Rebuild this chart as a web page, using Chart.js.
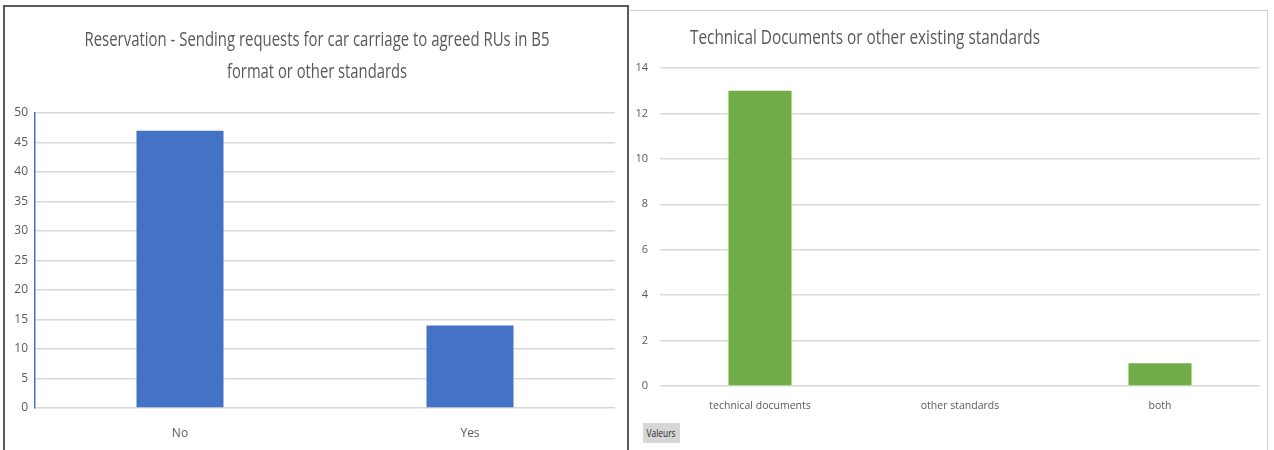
<!DOCTYPE html>
<html>
<head>
<meta charset="utf-8">
<script src="https://cdn.jsdelivr.net/npm/chart.js@4.4.1/dist/chart.umd.min.js"></script>
<style>
  html, body { margin:0; padding:0; background:#fff; width:1274px; height:450px; overflow:hidden; }
  #leftBox { position:absolute; left:3px; top:5px; width:626px; height:460px; border:2px solid #5a5a5a; box-sizing:border-box; }
  #rightBox { position:absolute; left:630px; top:10px; width:638px; height:460px; border:1px solid #cfcfcf; border-left:none; box-sizing:border-box; }
  #leftWrap { position:absolute; left:5px; top:7px; width:622px; height:443px; }
  #rightWrap { position:absolute; left:631px; top:11px; width:636px; height:439px; }
  #valeurs { position:absolute; left:643px; top:423px; width:37px; height:20px; background:#d6d6d6; color:#262626; font:11px 'Open Sans',sans-serif; line-height:20px; text-align:center; overflow:hidden; white-space:nowrap; }
  #valeurs span { display:inline-block; transform:scaleX(0.76); transform-origin:center; margin-left:-8px; margin-right:-8px; }
</style>
</head>
<body>
<div id="leftBox"></div>
<div id="rightBox"></div>
<div id="leftWrap"><canvas id="c1"></canvas></div>
<div id="rightWrap"><canvas id="c2"></canvas></div>
<div id="valeurs"><span>Valeurs</span></div>
<script>
// ---- data ----
const leftTitle = ['Reservation - Sending requests for car carriage to agreed RUs in B5', 'format or other standards'];
const leftCategories = ['No', 'Yes'];
const leftValues = [47, 14];
const leftMax = 50;
const leftStep = 5;

const rightTitle = 'Technical Documents or other existing standards';
const rightCategories = ['technical documents', 'other standards', 'both'];
const rightValues = [13, 0, 1];
const rightMax = 14;
const rightStep = 2;

const FONT = "'Open Sans','Liberation Sans',sans-serif";
const GREY = '#595959';
const GRID = '#d9d9d9';

// draws a title with narrow (horizontally compressed) text like the original
function titlePlugin(id, lines, x, y, lineGap, maxWidths, align) {
  return {
    id,
    afterDraw(chart) {
      const ctx = chart.ctx;
      ctx.save();
      ctx.font = "20px " + FONT;
      ctx.fillStyle = GREY;
      ctx.textBaseline = 'middle';
      ctx.textAlign = align;
      lines.forEach((t, i) => {
        const w = ctx.measureText(t).width;
        const mw = Math.min(w, maxWidths[i]);
        ctx.fillText(t, x, y + i * lineGap, mw);
      });
      ctx.restore();
    }
  };
}

new Chart(document.getElementById('c1'), {
  type: 'bar',
  data: { labels: leftCategories, datasets: [{ data: leftValues, backgroundColor: '#4472C4', barPercentage: 0.3, categoryPercentage: 1 }] },
  options: {
    responsive: true, maintainAspectRatio: false, animation: false,
    layout: { padding: { left: 0, right: 12, top: 106, bottom: 0 } },
    plugins: { legend: { display: false }, tooltip: { enabled: false }, title: { display: false } },
    scales: {
      x: {
        grid: { display: false }, border: { display: false },
        ticks: { color: GREY, font: { family: FONT, size: 12 }, padding: 10 },
        afterFit: s => { s.height = 42; }
      },
      y: {
        min: 0, max: leftMax,
        grid: { color: GRID, lineWidth: 1.5, drawTicks: false },
        border: { display: true, color: '#4472C4', width: 1.5 },
        ticks: { stepSize: leftStep, color: GREY, font: { family: FONT, size: 12 }, padding: 7 },
        afterFit: s => { s.width = 30; }
      }
    }
  },
  plugins: [titlePlugin('ltitle', leftTitle, 312, 33, 32, [465, 180], 'center')]
});

new Chart(document.getElementById('c2'), {
  type: 'bar',
  data: { labels: rightCategories, datasets: [{ data: rightValues, backgroundColor: '#70AD47', barPercentage: 0.315, categoryPercentage: 1 }] },
  options: {
    responsive: true, maintainAspectRatio: false, animation: false,
    layout: { padding: { left: 0, right: 7, top: 57, bottom: 0 } },
    plugins: { legend: { display: false }, tooltip: { enabled: false }, title: { display: false } },
    scales: {
      x: {
        grid: { display: false }, border: { display: false },
        ticks: { color: GREY, font: { family: FONT, size: 10.5 }, padding: 6 },
        afterFit: s => { s.height = 64; }
      },
      y: {
        min: 0, max: rightMax,
        grid: { color: GRID, lineWidth: 1.5, drawTicks: false },
        border: { display: false },
        ticks: { stepSize: rightStep, color: GREY, font: { family: FONT, size: 11 }, padding: 12 },
        afterFit: s => { s.width = 29; }
      }
    }
  },
  plugins: [titlePlugin('rtitle', [rightTitle], 59, 27, 0, [350], 'left')]
});
</script>
</body>
</html>
